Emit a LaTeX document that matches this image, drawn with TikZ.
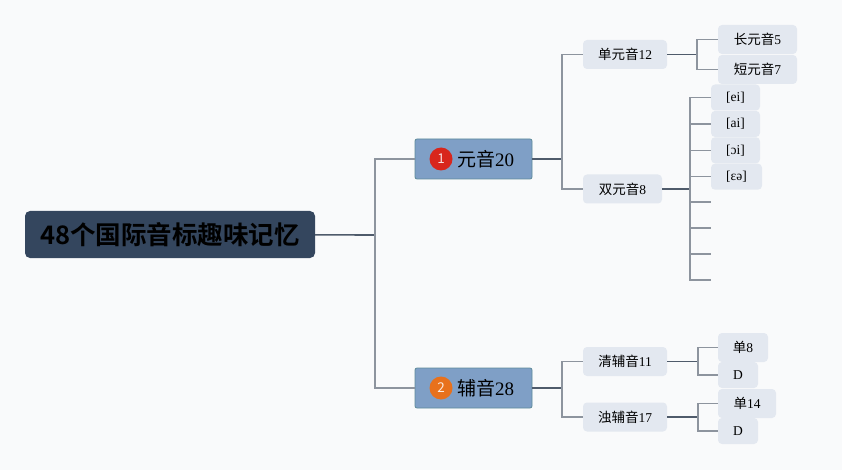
\documentclass[tikz,border=0pt]{standalone}
\usepackage{fontspec}
\setmainfont{Liberation Serif}
\newfontfamily\cjk[BoldFont={Noto Sans CJK SC Bold}]{Noto Sans CJK SC}
\usetikzlibrary{calc, chains, positioning, scopes}
\definecolor{bgc}{HTML}{F9FAFB}
\definecolor{rootc}{HTML}{34465E}
\definecolor{topc}{HTML}{7F9FC6}
\definecolor{topd}{HTML}{5E8B9A}
\definecolor{subc}{HTML}{E3E8F0}
\definecolor{stemc}{HTML}{4F5B6B}
\definecolor{twigc}{HTML}{8D949E}
\definecolor{badgea}{HTML}{D8261C}
\definecolor{badgeb}{HTML}{E8711C}
\newcommand\zh[1]{{\cjk #1}}

\begin{document}
\begin{tikzpicture}[
   x=1pt, y=-1pt,
   root/.style = {rectangle, rounded corners=5pt, fill=rootc, text=black,
      minimum width=290pt, minimum height=47pt, inner sep=0pt,
      font=\cjk\bfseries\fontsize{25.5}{27}\selectfont},
   topic/.style = {rectangle, rounded corners=2pt, fill=topc, draw=topd, line width=0.8pt,
      minimum width=117pt, minimum height=40pt, inner sep=0pt,
      font=\fontsize{19}{21}\selectfont},
   badge/.style = {circle, fill=#1, text=white!85!#1, minimum size=23pt, inner sep=0pt,
      font=\cjk\fontsize{13.5}{14}\selectfont},
   leaf/.style = {rectangle, rounded corners=4pt, fill=subc, minimum height=29pt,
      inner sep=0pt, font=\fontsize{13.5}{15}\selectfont},
   ipa/.style = {leaf, minimum height=26pt, minimum width=49pt, on chain},
   stem/.style = {draw=stemc, line width=1.6pt},
   twig/.style = {draw=twigc, line width=1.4pt}]
   \fill[bgc] (0,0) rectangle (842,470);
   \useasboundingbox (0,0) rectangle (842,470);

   \node[root]  (title) at (170,234.5) {48个国际音标趣味记忆};
   \node[topic] (vowel) at (473.5,159) {\hspace{24pt}\zh{元音}20};
   \node[topic] (cons)  at (473.5,388) {\hspace{24pt}\zh{辅音}28};
   \node[badge=badgea] (b1) at (441,159) {1};
   \node[badge=badgeb] (b2) at (441,388) {2};

   \node[leaf, minimum width=84pt] (mono)  at (625,54.5) {\zh{单元音}12};
   \node[leaf, minimum width=79pt] (diph)  at (622.5,189) {\zh{双元音}8};
   \node[leaf, minimum width=79pt] (long)  at (757.5,39.5) {\zh{长元音}5};
   \node[leaf, minimum width=79pt] (short) at (757.5,69.5) {\zh{短元音}7};

   {[start chain = going below, node distance=0pt]
   \node[ipa] (ei) at (735.5,97.5) {[ei]};
   \node[ipa] (ai) {[ai]};
   \node[ipa] (oi) {[ɔi]};
   \node[ipa, minimum width=51pt, xshift=1pt] (ea) {[ɛə]};
   }

   \node[leaf, minimum width=84pt] (voiceless) at (625,361.5) {\zh{清辅音}11};
   \node[leaf, minimum width=84pt] (voiced)    at (625,417) {\zh{浊辅音}17};
   \node[leaf, minimum width=50pt] (vl1) at (743,347.5) {\zh{单}8};
   \node[leaf, minimum width=40pt, minimum height=26pt] (vl2) at (738,375) {D};
   \node[leaf, minimum width=58pt] (vd1) at (747,403.5) {\zh{单}14};
   \node[leaf, minimum width=40pt, minimum height=26pt] (vd2) at (738,431) {D};

   \coordinate (j0) at (375,235);
   \coordinate (j1) at (562,159);
   \coordinate (j2) at (697,54.5);
   \coordinate (j3) at (690,189);
   \coordinate (j4) at (562,388);
   \coordinate (j5) at (698,361.5);
   \coordinate (j6) at (698,417);
   \foreach \i/\y in {5/202, 6/228, 7/254, 8/280}
      \coordinate (t\i) at (711,\y);

   \draw[stem] (title) -- (j0);
   \draw[twig] (j0) |- (vowel);
   \draw[twig] (j0) |- (cons);

   \draw[stem] (vowel) -- (j1);
   \draw[twig] (j1) |- (mono);
   \draw[twig] (j1) |- (diph);
   \draw[stem] (mono) -- (j2);
   \draw[twig] (j2) |- (long);
   \draw[twig] (j2) |- (short);

   \draw[stem] (diph) -- (j3);
   \foreach \n in {ei, ai, oi, ea}
      \draw[twig] (j3) |- (\n.west);
   \foreach \i in {5,...,8}
      \draw[twig] (j3) |- (t\i);

   \draw[stem] (cons) -- (j4);
   \draw[twig] (j4) |- (voiceless);
   \draw[twig] (j4) |- (voiced);
   \draw[stem] (voiceless) -- (j5);
   \draw[twig] (j5) |- (vl1);
   \draw[twig] (j5) |- (vl2);
   \draw[stem] (voiced) -- (j6);
   \draw[twig] (j6) |- (vd1);
   \draw[twig] (j6) |- (vd2);
\end{tikzpicture}
\end{document}
